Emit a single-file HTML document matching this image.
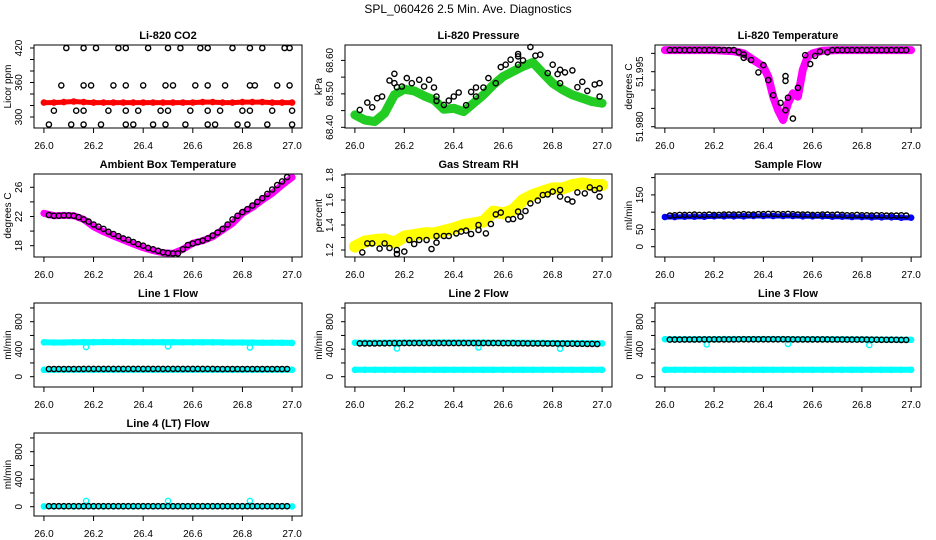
<!DOCTYPE html>
<html><head><meta charset="utf-8"><style>
html,body{margin:0;padding:0;background:#fff;}
svg{display:block;font-family:"Liberation Sans",Arial,sans-serif;}
</style></head><body>
<svg id="chart" width="936" height="540" viewBox="0 0 936 540" xmlns="http://www.w3.org/2000/svg">
<text x="468" y="13" text-anchor="middle" font-size="12">SPL_060426  2.5 Min. Ave. Diagnostics</text>
</svg>
<script>
// ---------- data ----------
const xTicks = [26.0, 26.2, 26.4, 26.6, 26.8, 27.0];
const xTickLabels = ["26.0", "26.2", "26.4", "26.6", "26.8", "27.0"];
const denseT = [26.00,26.04,26.08,26.12,26.16,26.20,26.24,26.28,26.32,26.36,26.40,26.44,26.48,26.52,26.56,26.60,26.64,26.68,26.72,26.76,26.80,26.84,26.88,26.92,26.96,27.00];
const blackT = [26.02,26.04,26.06,26.08,26.10,26.12,26.14,26.16,26.18,26.20,26.22,26.24,26.26,26.28,26.30,26.32,26.34,26.36,26.38,26.40,26.42,26.44,26.46,26.48,26.50,26.52,26.54,26.56,26.58,26.60,26.62,26.64,26.66,26.68,26.70,26.72,26.74,26.76,26.78,26.80,26.82,26.84,26.86,26.88,26.90,26.92,26.94,26.96,26.98];

// CO2
const co2Red = [325,325,326,327,326,325,325,325,325,325,325,325,325,325,325,325,326,326,325,325,326,326,326,325,325,325];
const co2BlackX = [26.09,26.16,26.21,26.30,26.33,26.42,26.50,26.55,26.63,26.66,26.76,26.83,26.88,26.97,26.99,
 26.07,26.16,26.19,26.28,26.33,26.40,26.49,26.52,26.61,26.66,26.73,26.83,26.85,26.94,26.99,
 26.04,26.13,26.16,26.26,26.33,26.38,26.47,26.50,26.59,26.66,26.71,26.80,26.83,26.92,27.00,
 26.02,26.11,26.16,26.23,26.33,26.36,26.44,26.49,26.57,26.66,26.69,26.78,26.82,26.90,27.00];
const co2BlackY = [420,420,420,420,420,420,420,420,420,420,420,420,420,420,420,
 355,355,355,355,355,355,355,355,355,355,355,355,355,355,355,
 311,311,311,311,311,311,311,311,311,311,311,311,311,311,311,
 287,287,287,287,287,287,287,287,287,287,287,287,287,287,287];

// Pressure
const presGreen = [68.437,68.422,68.417,68.442,68.497,68.514,68.509,68.494,68.482,68.454,68.457,68.447,68.472,68.497,68.527,68.552,68.567,68.582,68.594,68.562,68.532,68.512,68.497,68.487,68.477,68.472];
const presBlackX = [26.02,26.05,26.07,26.09,26.11,26.14,26.16,26.16,26.17,26.19,26.21,26.23,26.26,26.28,26.30,26.32,26.33,26.33,26.36,26.38,26.40,26.42,26.45,26.47,26.49,26.49,26.52,26.54,26.57,26.59,26.61,26.63,26.66,26.66,26.66,26.68,26.71,26.73,26.75,26.78,26.80,26.82,26.83,26.83,26.85,26.88,26.90,26.92,26.94,26.97,26.99,26.99];
const presBlackY = [68.452,68.474,68.46,68.487,68.492,68.54,68.532,68.56,68.52,68.522,68.547,68.532,68.542,68.522,68.542,68.519,68.492,68.479,68.467,68.48,68.492,68.504,68.466,68.506,68.492,68.519,68.519,68.547,68.532,68.58,68.587,68.602,68.612,68.619,68.587,68.60,68.64,68.614,68.617,68.562,68.587,68.559,68.572,68.532,68.564,68.57,68.52,68.536,68.509,68.528,68.532,68.492];

// Li-820 temperature
const tempT = [26.00,26.10,26.20,26.28,26.32,26.36,26.40,26.42,26.44,26.46,26.48,26.50,26.52,26.54,26.56,26.58,26.60,26.64,26.70,26.80,26.90,27.00];
const tempMag = [52.0009,52.0009,52.0009,52.0006,52.0000,51.9982,51.9964,51.9936,51.9882,51.9845,51.9818,51.9864,51.9891,51.9882,51.9955,51.9991,52.0000,52.0007,52.0009,52.0009,52.0009,52.0009];
const tempBlackX = [26.02,26.04,26.06,26.08,26.10,26.12,26.14,26.16,26.18,26.20,26.22,26.24,26.26,26.28,
 26.30,26.32,26.32,26.35,26.38,26.40,26.42,26.44,26.47,26.49,26.49,26.49,26.50,26.52,26.54,26.57,26.59,26.61,26.63,26.66,
 26.68,26.70,26.72,26.74,26.76,26.78,26.80,26.82,26.84,26.86,26.88,26.90,26.92,26.94,26.96,26.98];
const tempBlackY = [52.0009,52.0009,52.0009,52.0009,52.0009,52.0009,52.0009,52.0009,52.0009,52.0009,52.0009,52.0009,52.0009,52.0009,
 52.0003,51.9997,51.9988,51.9982,51.9948,51.9968,51.9927,51.9886,51.9865,51.9845,51.9938,51.9925,51.9879,51.9822,51.9906,51.9995,51.9971,51.9993,52.0005,52.0003,
 52.0009,52.0009,52.0009,52.0009,52.0009,52.0009,52.0009,52.0009,52.0009,52.0009,52.0009,52.0009,52.0009,52.0009,52.0009,52.0009];

// Ambient box temperature
const ambMag = [22.43,22.11,22.15,22.11,21.61,20.60,19.92,19.32,18.78,18.23,17.73,17.32,17.04,16.95,17.50,18.32,18.68,19.23,20.15,21.06,22.43,23.25,24.26,25.17,26.31,27.36];
const ambBlack = [22.2,22.1,22.1,22.15,22.15,22.1,21.9,21.6,21.3,20.9,20.6,20.3,19.9,19.6,19.3,19.0,18.8,18.5,18.2,18.0,17.7,17.5,17.3,17.1,17.0,16.95,16.95,17.5,18.1,18.3,18.5,18.7,19.0,19.4,19.8,20.3,20.9,21.6,22.1,22.6,23.0,23.5,24.0,24.5,25.1,25.7,26.3,26.8,27.4];

// Gas stream RH
const rhYellow = [1.227,1.267,1.28,1.285,1.259,1.307,1.32,1.333,1.333,1.352,1.373,1.40,1.413,1.427,1.507,1.493,1.52,1.60,1.64,1.667,1.693,1.693,1.72,1.733,1.72,1.72];
const rhBlackX = [26.03,26.05,26.07,26.10,26.12,26.14,26.17,26.17,26.20,26.22,26.24,26.26,26.29,26.31,26.33,26.33,26.36,26.38,26.41,26.43,26.45,26.47,26.50,26.50,26.53,26.55,26.57,26.59,26.62,26.64,26.66,26.67,26.69,26.71,26.74,26.76,26.78,26.80,26.83,26.83,26.86,26.88,26.90,26.93,26.95,26.97,26.99,26.99];
const rhBlackY = [1.181,1.253,1.253,1.211,1.253,1.216,1.20,1.168,1.187,1.28,1.248,1.28,1.28,1.208,1.312,1.259,1.312,1.312,1.333,1.347,1.355,1.328,1.40,1.36,1.333,1.408,1.485,1.499,1.445,1.448,1.507,1.467,1.512,1.573,1.595,1.64,1.645,1.667,1.68,1.627,1.605,1.587,1.661,1.653,1.701,1.68,1.693,1.627];

// Sample flow
const sfBlue = [86,86,87,87,87,88,88,88,88,89,89,89,89,89,88,88,88,87,87,86,86,85,85,85,84,84];
const sfBlack = [90,91,92,92,92,93,92,92,93,92,92,93,93,93,93,94,93,93,94,94,95,95,94,94,95,94,93,93,93,92,92,93,93,92,93,92,91,91,92,91,91,90,91,91,90,90,90,91,90];

// Line flows
const l1Top = [500,498,498,500,502,502,503,503,503,502,502,502,502,502,501,501,500,500,499,498,497,496,495,494,493,492];
const l1Bot = [100,100,100,101,101,101,101,101,101,101,101,101,101,101,101,101,101,100,100,100,100,100,100,100,100,100];
const l1Black = [112,112,112,112,112,112,112,113,113,113,113,113,113,113,113,113,113,113,113,113,113,113,113,113,113,113,113,113,113,113,113,113,113,113,112,112,112,112,112,112,112,112,112,112,112,112,112,112,112];
const l2Top = [494,494,494,495,496,496,497,497,497,497,497,497,497,496,495,495,494,493,492,491,490,489,488,487,486,485];
const l2Bot = [100,100,100,100,100,100,100,100,100,100,100,100,100,100,100,100,100,100,100,100,100,100,100,100,100,100];
const l2Black = [484,484,485,485,486,486,487,487,487,488,488,488,489,489,489,489,489,489,489,489,489,489,489,489,489,489,488,488,488,487,487,487,486,486,485,485,484,484,483,483,482,481,480,480,479,478,477,477,476];
const l3Top = [545,545,545,546,546,546,547,547,547,547,547,547,547,546,546,545,545,544,544,543,542,541,540,539,538,537];
const l3Bot = [100,100,100,100,100,100,100,100,100,100,100,100,100,100,100,100,100,100,100,100,100,100,100,100,100,100];
const l3Black = [540,540,540,541,541,541,542,542,542,543,543,543,543,543,544,544,544,544,544,544,544,544,544,544,544,543,543,543,543,543,542,542,542,541,541,541,540,540,540,539,539,538,538,537,537,536,536,535,535];
const l4Cyan = [5,5,5,5,5,5,5,5,5,5,5,5,5,5,5,5,5,5,5,5,5,5,5,5,5,5];
const l4Black = [8,8,8,8,8,8,8,8,8,8,8,8,8,8,8,8,8,8,8,8,8,8,8,8,8,8,8,8,8,8,8,8,8,8,8,8,8,8,8,8,8,8,8,8,8,8,8,8,8];
const dipX = [26.17, 26.50, 26.83];
const l1Dip = [430, 440, 425];
const l2Dip = [410, 425, 405];
const l3Dip = [470, 475, 460];
const l4Spike = [85, 85, 85];

// ---------- drawing ----------
const NS = "http://www.w3.org/2000/svg";
const svg = document.getElementById("chart");
function el(tag, attrs, parent) {
  const e = document.createElementNS(NS, tag);
  for (const k in attrs) e.setAttribute(k, attrs[k]);
  (parent || svg).appendChild(e);
  return e;
}
const XLIM = [25.96, 27.04];
const cols = [[34,302],[345,612],[655,921]];
const rows = [[45,128],[174,257],[303,387],[433,516]];

function makePanel(name, title, ylab, col, row, ylim, yTicks, yLabels) {
  const [x0, x1] = cols[col], [y0, y1] = rows[row];
  const g = el("g", {});
  
  
  const sx = v => x0 + (v - XLIM[0]) / (XLIM[1] - XLIM[0]) * (x1 - x0);
  const sy = v => y1 - (v - ylim[0]) / (ylim[1] - ylim[0]) * (y1 - y0);
  const t = el("text", {x: (x0 + x1) / 2, y: y0 - 6, "text-anchor": "middle", "font-size": 11, "font-weight": "bold"}, g);
  t.textContent = title;
  
  
  const plot = el("g", {}, g);
  
  
  const box = el("rect", {x: x0, y: y0, width: x1 - x0, height: y1 - y0, fill: "none", stroke: "#000", "stroke-width": 1}, g);
  
  
  const xa = el("g", {}, g);
  
  
  xTicks.forEach((v, i) => {
    el("line", {x1: sx(v), x2: sx(v), y1: y1, y2: y1 + 5, stroke: "#000"}, xa);
    const lt = el("text", {x: sx(v), y: y1 + 21, "text-anchor": "middle", "font-size": 10}, xa);
    lt.textContent = xTickLabels[i];
    
    
  });
  const ya = el("g", {}, g);
  
  
  yTicks.forEach(v => {
    el("line", {x1: x0 - 4, x2: x0, y1: sy(v), y2: sy(v), stroke: "#000"}, ya);
  });
  yLabels.forEach(l => {
    const yy = sy(parseFloat(l));
    const lt = el("text", {x: x0 - 12, y: yy, "text-anchor": "middle", "font-size": 10, transform: `rotate(-90 ${x0 - 12} ${yy})`}, ya);
    lt.textContent = l;
    
    
  });
  const yt = el("text", {x: x0 - 23, y: (y0 + y1) / 2, "text-anchor": "middle", "font-size": 10, transform: `rotate(-90 ${x0 - 23} ${(y0 + y1) / 2})`}, ya);
  yt.textContent = ylab;
  
  
  return {plot, sx, sy};
}
function band(p, xs, ys, color, w, name) {
  const pts = xs.map((x, i) => p.sx(x).toFixed(1) + "," + p.sy(ys[i]).toFixed(1)).join(" ");
  const pl = el("polyline", {points: pts, fill: "none", stroke: color, "stroke-width": w, "stroke-linejoin": "round", "stroke-linecap": "round"}, p.plot);
  
  
  points(p, xs, ys, color, name + '-point');
}
function points(p, xs, ys, color, name) {
  xs.forEach((x, i) => {
    const c = el("circle", {cx: p.sx(x).toFixed(1), cy: p.sy(ys[i]).toFixed(1), r: 2.6, fill: "none", stroke: color, "stroke-width": 1.4}, p.plot);
    
    
  });
}
function range(a, b, s) { const r = []; for (let v = a; v <= b + 1e-9; v += s) r.push(+v.toFixed(4)); return r; }

let p;
p = makePanel("co2", "Li-820 CO2", "Licor ppm", 0, 0, [280.9, 425.2], range(300, 420, 20), ["300", "360", "420"]);
band(p, denseT, co2Red, "#ff0000", 5, "co2-red-series");
points(p, co2BlackX, co2BlackY, "#000", "co2-black-point");

p = makePanel("pressure", "Li-820 Pressure", "kPa", 1, 0, [68.398, 68.646], range(68.40, 68.60, 0.05), ["68.40", "68.50", "68.60"]);
band(p, denseT, presGreen, "#22cc22", 9, "pressure-green-series");
points(p, presBlackX, presBlackY, "#000", "pressure-black-point");

p = makePanel("li820-temp", "Li-820 Temperature", "degrees C", 2, 0, [51.97965, 52.00228], range(51.980, 52.000, 0.005), ["51.980", "51.995"]);
band(p, tempT, tempMag, "#ff00ff", 8, "li820-temp-magenta-series");
points(p, tempBlackX, tempBlackY, "#000", "li820-temp-black-point");

p = makePanel("ambient", "Ambient Box Temperature", "degrees C", 0, 1, [16.45, 27.82], range(18, 26, 2), ["18", "22", "26"]);
band(p, denseT, ambMag, "#ff00ff", 7, "ambient-magenta-series");
points(p, blackT, ambBlack, "#000", "ambient-black-point");

p = makePanel("rh", "Gas Stream RH", "percent", 1, 1, [1.144, 1.808], range(1.2, 1.8, 0.1), ["1.2", "1.4", "1.6", "1.8"]);
band(p, denseT, rhYellow, "#ffff00", 12, "rh-yellow-series");
points(p, rhBlackX, rhBlackY, "#000", "rh-black-point");

p = makePanel("sample-flow", "Sample Flow", "ml/min", 2, 1, [-29.8, 210.5], range(0, 200, 50), ["0", "50", "150"]);
band(p, denseT, sfBlue, "#0000ff", 5, "sample-flow-blue-series");
points(p, blackT, sfBlack, "#000", "sample-flow-black-point");

const flowTicks = range(0, 1000, 200), flowLabels = ["0", "400", "800"];
p = makePanel("line1", "Line 1 Flow", "ml/min", 0, 2, [-150, 1072], flowTicks, flowLabels);
band(p, denseT, l1Top, "#00ffff", 6, "line1-cyan-upper");
band(p, denseT, l1Bot, "#00ffff", 6, "line1-cyan-lower");
points(p, dipX, l1Dip, "#00ffff", "line1-cyan-dip");
points(p, blackT, l1Black, "#000", "line1-black-point");

p = makePanel("line2", "Line 2 Flow", "ml/min", 1, 2, [-150, 1072], flowTicks, flowLabels);
band(p, denseT, l2Top, "#00ffff", 6, "line2-cyan-upper");
band(p, denseT, l2Bot, "#00ffff", 6, "line2-cyan-lower");
points(p, dipX, l2Dip, "#00ffff", "line2-cyan-dip");
points(p, blackT, l2Black, "#000", "line2-black-point");

p = makePanel("line3", "Line 3 Flow", "ml/min", 2, 2, [-150, 1072], flowTicks, flowLabels);
band(p, denseT, l3Top, "#00ffff", 6, "line3-cyan-upper");
band(p, denseT, l3Bot, "#00ffff", 6, "line3-cyan-lower");
points(p, dipX, l3Dip, "#00ffff", "line3-cyan-dip");
points(p, blackT, l3Black, "#000", "line3-black-point");

p = makePanel("line4", "Line 4 (LT) Flow", "ml/min", 0, 3, [-135, 1072], flowTicks, flowLabels);
band(p, denseT, l4Cyan, "#00ffff", 5, "line4-cyan-series");
points(p, dipX, l4Spike, "#00ffff", "line4-cyan-spike");
points(p, blackT, l4Black, "#000", "line4-black-point");
</script>
</body></html>
